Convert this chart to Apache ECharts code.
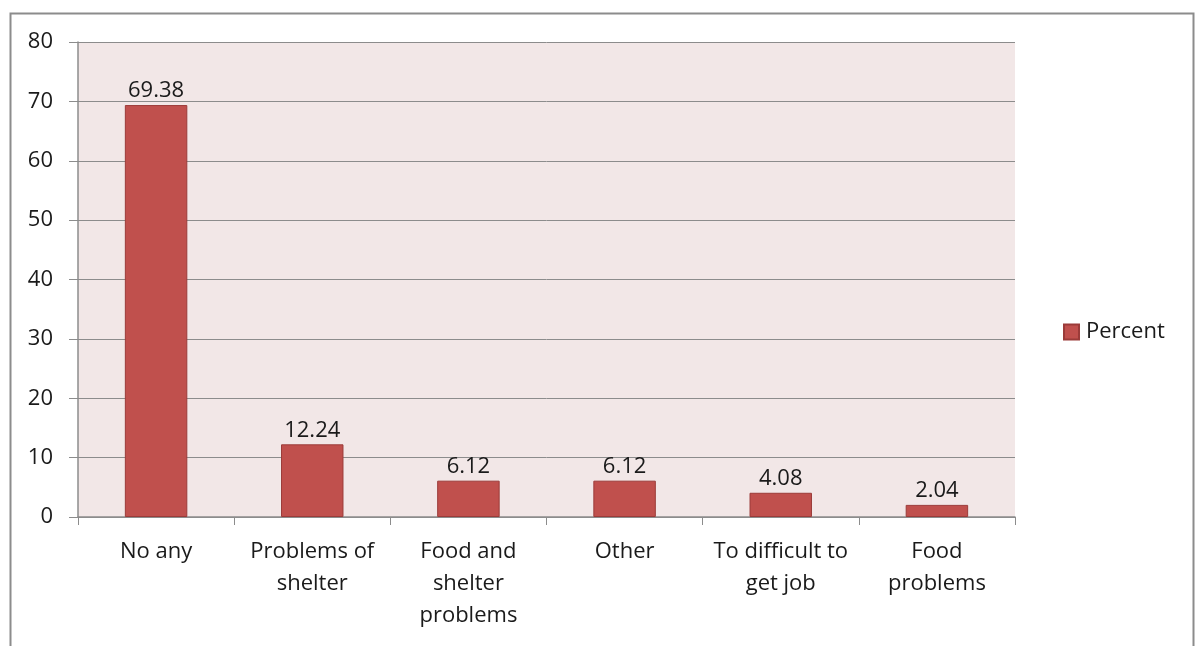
<!DOCTYPE html>
<html>
<head>
<meta charset="utf-8">
<script src="https://cdn.jsdelivr.net/npm/echarts@6/dist/echarts.min.js"></script>
<style>html,body{margin:0;padding:0;background:#fff;}#c{width:1198px;height:646px;}</style>
</head>
<body>
<div id="c"></div>
<script>
const categories = ["No any", "Problems of\nshelter", "Food and\nshelter\nproblems", "Other", "To difficult to\nget job", "Food\nproblems"];
const percentValues = [69.38, 12.24, 6.12, 6.12, 4.08, 2.04];
const seriesName = "Percent";

const chart = echarts.init(document.getElementById('c'));
const font = "'Open Sans', 'Noto Sans', sans-serif";
chart.setOption({
  animation: false,
  textStyle: { fontFamily: font },
  graphic: [{
    type: 'rect', left: 8, top: 11,
    shape: { width: 1183, height: 700 },
    style: { fill: 'none', stroke: '#8c8c8c', lineWidth: 2 }, z: -1
  }],
  grid: { left: 78, right: 183, top: 42, bottom: 129, show: true, backgroundColor: '#F2E7E7', borderWidth: 0 },
  legend: {
    data: [{ name: seriesName, icon: 'rect' }], orient: 'vertical', left: 1058, top: 316,
    itemWidth: 15, itemHeight: 15, itemGap: 6,
    textStyle: { fontSize: 22, color: '#1a1a1a', fontFamily: font, padding: [0, 0, 0, 2] }
  },
  xAxis: {
    type: 'category', data: categories,
    axisLine: { lineStyle: { color: '#8c8c8c', width: 1.5 } },
    axisTick: { show: true, length: 8, lineStyle: { color: '#8c8c8c' } },
    axisLabel: { fontSize: 22, color: '#1a1a1a', lineHeight: 32, margin: 19, interval: 0 }
  },
  yAxis: {
    type: 'value', min: 0, max: 80, interval: 10,
    axisLine: { show: true, lineStyle: { color: '#8c8c8c', width: 1.5 } },
    axisTick: { show: true, length: 9, lineStyle: { color: '#8c8c8c' } },
    splitLine: { lineStyle: { color: '#8c8c8c', width: 1 } },
    axisLabel: { fontSize: 22, color: '#1a1a1a', margin: 25 }
  },
  series: [{
    name: seriesName, type: 'bar', data: percentValues,
    barWidth: '40%',
    itemStyle: { color: '#C0504D', borderColor: '#9B3B39', borderWidth: 1 },
    label: { show: true, position: 'top', fontSize: 22, color: '#1a1a1a', distance: 3 }
  }]
});
</script>
</body>
</html>
